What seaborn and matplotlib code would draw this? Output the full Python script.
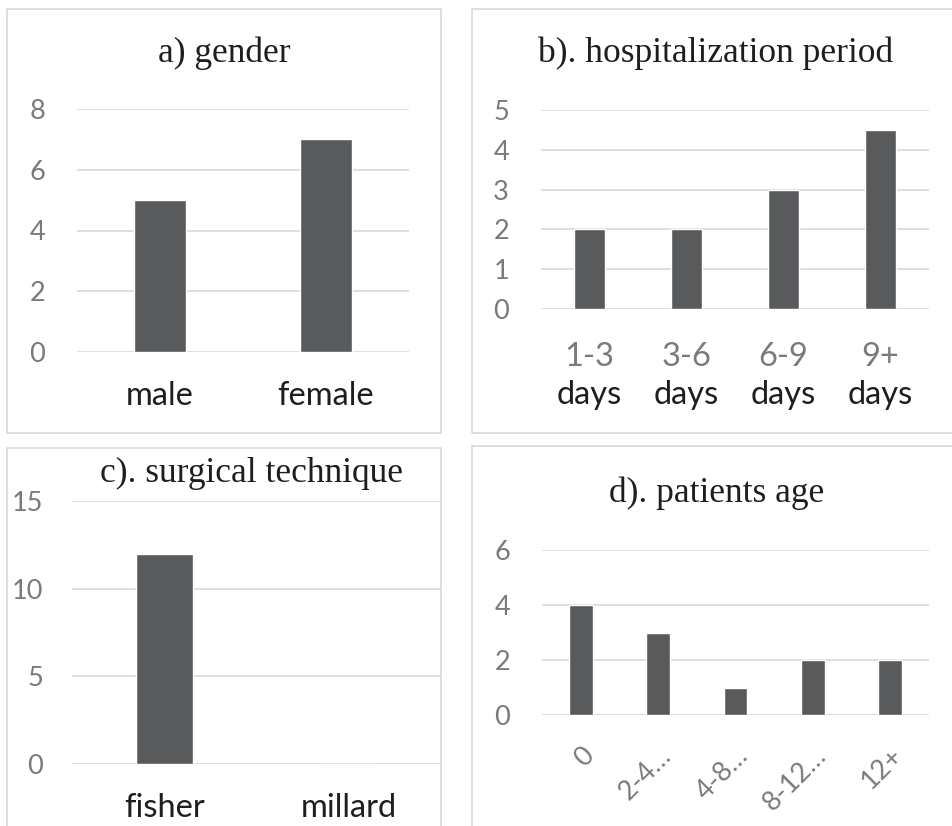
import matplotlib
matplotlib.use("Agg")
import matplotlib.pyplot as plt
import matplotlib.transforms as mtransforms
from matplotlib.patches import Rectangle
import seaborn as sns
import pandas as pd

# data
gender_cats = ["male", "female"]
gender_vals = [5, 7]

stay_cats = ["1-3", "3-6", "6-9", "9+"]
stay_vals = [2, 2, 3, 4.5]

tech_cats = ["fisher", "millard"]
tech_vals = [12, 0]

age_cats = ["0", "2-4…", "4-8…", "8-12…", "12+"]
age_vals = [4, 3, 1, 2, 2]

BAR = "#595a5c"
GRID = "#d9d9d9"
GRAY = "#7a7a7a"
DARK = "#1e1e1e"
SANS = ["Lato", "DejaVu Sans"]
SERIF = ["Liberation Serif", "DejaVu Serif"]
TITLE_SIZE = 25.5

sns.set_style("white")
plt.rcParams["font.family"] = SANS

W, H = 952, 826
fig = plt.figure(figsize=(W / 100, H / 100), dpi=100)


def px_axes(x0, x1, ytop, ybot):
    return fig.add_axes([x0 / W, (H - ybot) / H, (x1 - x0) / W, (ybot - ytop) / H])


def box(x0, y0, x1, y1):
    fig.patches.append(Rectangle((x0 / W, (H - y1) / H), (x1 - x0) / W, (y1 - y0) / H,
                                 transform=fig.transFigure, fill=False,
                                 edgecolor=GRID, linewidth=1.2, zorder=0))


def panel(ax, cats, vals, ymax, step, xcolor, xsize=23.5, ypad=23, xpad=21):
    df = pd.DataFrame({"cat": cats, "val": vals})
    sns.barplot(data=df, x="cat", y="val", order=cats, color=BAR, width=0.31,
                saturation=1, ax=ax, zorder=3)
    ax.set_ylim(0, ymax)
    ticks = list(range(0, ymax + 1, step))
    ax.set_yticks(ticks)
    for t in ticks:
        ax.axhline(t, color=GRID, linewidth=1.2, zorder=1)
    for s in ax.spines.values():
        s.set_visible(False)
    ax.set_xlabel("")
    ax.set_ylabel("")
    ax.tick_params(axis="y", length=0, pad=ypad, labelsize=19.5, labelcolor=GRAY)
    ax.tick_params(axis="x", length=0, pad=xpad, labelsize=xsize, labelcolor=xcolor)
    ax.set_facecolor("none")


# a) gender
box(7, 9, 441, 433)
ax_a = px_axes(77, 409, 109, 352)
panel(ax_a, gender_cats, gender_vals, 8, 2, DARK)
fig.text(224 / W, 1 - 53 / H, "a) gender", family=SERIF, fontsize=TITLE_SIZE,
         ha="center", va="center", color=DARK)

# b) hospitalization period
box(472, 9, 970, 433)
ax_b = px_axes(541, 929, 110, 309)
panel(ax_b, stay_cats, stay_vals, 5, 1, GRAY, xpad=24)
trans = mtransforms.blended_transform_factory(ax_b.transData, ax_b.transAxes)
for i in range(len(stay_cats)):
    ax_b.text(i, -(395 - 309) / 199, "days", transform=trans, ha="center",
              va="center", fontsize=23.5, color=DARK)
fig.text(716 / W, 1 - 53 / H, "b). hospitalization period", family=SERIF,
         fontsize=TITLE_SIZE, ha="center", va="center", color=DARK)

# c) surgical technique
box(7, 448, 441, 840)
ax_c = px_axes(72, 441, 501, 764)
panel(ax_c, tech_cats, tech_vals, 15, 5, DARK, ypad=21)
fig.text(252 / W, 1 - 473 / H, "c). surgical technique", family=SERIF,
         fontsize=TITLE_SIZE, ha="center", va="center", color=DARK)

# d) patients age
box(472, 446, 970, 840)
ax_d = px_axes(542, 929, 550, 715)
panel(ax_d, age_cats, age_vals, 6, 2, GRAY, xsize=19.5, xpad=20)
for lab in ax_d.get_xticklabels():
    lab.set_rotation(45)
    lab.set_ha("right")
    lab.set_rotation_mode("anchor")
fig.text(717 / W, 1 - 493 / H, "d). patients age", family=SERIF,
         fontsize=TITLE_SIZE, ha="center", va="center", color=DARK)

fig.savefig("out.png", dpi=100, facecolor="white")
